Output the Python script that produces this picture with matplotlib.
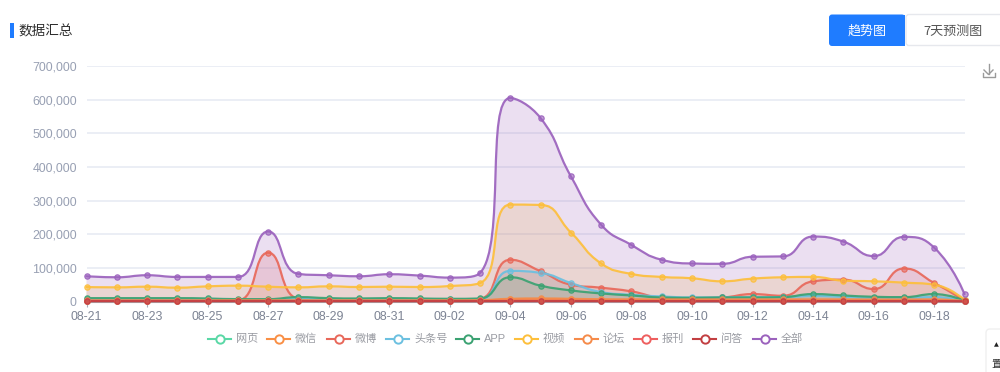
import matplotlib
matplotlib.use('Agg')
import matplotlib.pyplot as plt
import numpy as np
from matplotlib.path import Path
from matplotlib.patches import PathPatch, FancyBboxPatch, Rectangle
from matplotlib.lines import Line2D
from matplotlib.colors import to_rgba

CJK = ['Noto Sans CJK SC', 'DejaVu Sans']
NUM = ['Liberation Sans', 'DejaVu Sans']
plt.rcParams['font.family'] = CJK

dates = ['08-21','08-22','08-23','08-24','08-25','08-26','08-27','08-28','08-29','08-30',
         '08-31','09-01','09-02','09-03','09-04','09-05','09-06','09-07','09-08','09-09',
         '09-10','09-11','09-12','09-13','09-14','09-15','09-16','09-17','09-18','09-19']
yticks = [0, 100000, 200000, 300000, 400000, 500000, 600000, 700000]

web = [1500,1500,1500,1500,1500,1500,1500,1500,1500,1500,1500,1500,1500,1500,2500,2500,2500,2000,2000,2000,
       2000,2000,2000,2000,2000,2000,2000,2000,2000,800]
wechat = [2500,2500,2500,2500,2500,2500,2500,2500,2500,2500,2500,2500,2500,3000,6000,7000,6000,5000,5000,4500,
          4500,4500,4500,4500,4500,4500,4500,4500,4500,1200]
weibo = [3000,3000,3000,3000,3000,3500,145000,8000,3000,3000,3000,3000,3000,8000,124000,90000,50000,41000,30000,12000,
         10000,12000,22000,17000,60000,65000,37000,98000,55000,3000]
toutiao = [6000,6000,6000,6000,6000,5000,5000,9000,7000,7000,7000,7000,6000,7000,91000,85000,55000,28000,20000,15000,
           12000,12000,13000,13000,17000,14000,11000,11000,13000,2000]
app = [10000,10000,10000,10000,9000,7000,7000,13000,10000,9000,10000,9000,8000,9000,72000,47000,33000,24000,18000,12000,
       11000,12000,12000,13000,22000,18000,14000,13000,22000,3000]
video = [43000,42000,44000,41000,45000,47000,44000,42000,45000,43000,44000,43000,46000,55000,288000,287000,205000,113000,82000,73000,
         69000,60000,68000,72000,73000,62000,60000,56000,50000,5000]
forum = [3500,3500,3500,3500,3500,3500,3500,3500,3500,3500,3500,3500,3500,4000,8000,9000,8000,6500,6000,6000,
         6000,6000,6000,6000,6000,6000,6000,6000,6000,1500]
paper = [1500,1500,1500,1500,1500,1500,1500,1500,1500,1500,1500,1500,1500,1500,2000,2000,2000,1500,1500,1500,
         1500,1500,1500,1500,1500,1500,1500,1500,1500,800]
qa = [1000,1000,1000,1000,1000,1000,1000,1000,1000,1000,1000,1000,1000,1000,1000,1000,1000,1000,1000,1000,
      1000,1000,1000,1000,1000,1000,1000,1000,1000,500]
total = [75000,72000,78000,73000,73000,73000,208000,82000,78000,75000,81000,77000,71000,85000,605000,545000,372000,228000,168000,124000,
         113000,112000,133000,134000,193000,178000,135000,192000,160000,22000]

names = ['网页','微信','微博','头条号','APP','视频','论坛','报刊','问答','全部']
series = [web, wechat, weibo, toutiao, app, video, forum, paper, qa, total]
colors = ['#5ad8a6','#f98f45','#e8685a','#6cc0e0','#3ba272','#fdbf3c','#f58b4a','#ee5f5f','#c23f42','#9b62bd']

W, H = 1000, 372
L, R, T, B = 86.5, 964.5, 66.0, 301.5
fig = plt.figure(figsize=(W/100, H/100), dpi=100, facecolor='white')
ax = fig.add_axes([L/W, 1-B/H, (R-L)/W, (B-T)/H])
ax.set_xlim(0, len(dates)-1)
ax.set_ylim(0, 700000)
ax.set_facecolor('none')

SX = (R-L)/(len(dates)-1)
SY = (B-T)/700000

def smooth_path(xs, ys, smooth=0.5):
    """Cubic segments through the data points, control points clamped like a monotone-safe spline."""
    px = np.asarray(xs, float)*SX
    py = np.asarray(ys, float)*SY
    n = len(px)
    verts = [(px[0], py[0])]
    codes = [Path.MOVETO]
    cp0 = (px[0], py[0])
    for i in range(1, n):
        x, y = px[i], py[i]
        if i == n-1:
            cp1 = (x, y)
            nxt = (x, y)
        else:
            vx, vy = px[i+1]-px[i-1], py[i+1]-py[i-1]
            d0 = np.hypot(x-px[i-1], y-py[i-1])
            d1 = np.hypot(px[i+1]-x, py[i+1]-y)
            r = d1/(d0+d1)
            nx = x+vx*smooth*r
            ny = y+vy*smooth*r
            nx = min(nx, max(px[i+1], x)); ny = min(ny, max(py[i+1], y))
            nx = max(nx, min(px[i+1], x)); ny = max(ny, min(py[i+1], y))
            vx, vy = nx-x, ny-y
            cx = x-vx*d0/d1
            cy = y-vy*d0/d1
            cx = min(cx, max(px[i-1], x)); cy = min(cy, max(py[i-1], y))
            cx = max(cx, min(px[i-1], x)); cy = max(cy, min(py[i-1], y))
            vx, vy = x-cx, y-cy
            nx = x+vx*d1/d0
            ny = y+vy*d1/d0
            cp1 = (cx, cy)
            nxt = (nx, ny)
        verts += [cp0, cp1, (x, y)]
        codes += [Path.CURVE4]*3
        cp0 = nxt
    v = np.array(verts)
    v[:, 0] /= SX
    v[:, 1] /= SY
    return v, codes

xs = np.arange(len(dates))
for z, (vals, c) in enumerate(zip(series, colors)):
    v, codes = smooth_path(xs, vals)
    fv = np.vstack([v, [v[-1, 0], 0], [v[0, 0], 0], v[0]])
    fc = codes + [Path.LINETO, Path.LINETO, Path.CLOSEPOLY]
    ax.add_patch(PathPatch(Path(fv, fc), facecolor=c, edgecolor='none', alpha=0.2, zorder=3+z*0.01, clip_on=False))
for z, (vals, c) in enumerate(zip(series, colors)):
    v, codes = smooth_path(xs, vals)
    ax.add_patch(PathPatch(Path(v, codes), facecolor='none', edgecolor=to_rgba(c, 0.92), lw=1.6, zorder=4+z*0.01,
                           clip_on=False, capstyle='round'))
    ax.plot(xs, vals, ls='none', marker='o', ms=3.8, mfc=to_rgba(c, 0.6), mec=to_rgba(c, 0.9), mew=0.9,
            zorder=5+z*0.01, clip_on=False)

ax.set_yticks(yticks)
ax.set_yticklabels([f'{t:,}' for t in yticks], family=NUM, fontsize=8.9, color='#98a0b3')
ax.set_xticks(xs[::2])
ax.set_xticklabels(dates[::2], family=NUM, fontsize=8.9, color='#7d8494')
ax.tick_params(axis='y', length=0, pad=7)
ax.tick_params(axis='x', length=3.5, width=0.8, color='#a8adb8', pad=3.5)
ax.grid(axis='y', color='#e9edf4', lw=1.3, zorder=0)
ax.grid(axis='x', visible=False)
ax.set_axisbelow(True)
for s in ['top', 'right', 'left']:
    ax.spines[s].set_visible(False)
ax.spines['bottom'].set_color('#a8adb8')
ax.spines['bottom'].set_linewidth(0.8)

# Interface overlay in pixel coordinates
ui = fig.add_axes([0, 0, 1, 1], zorder=10)
ui.set_xlim(0, W)
ui.set_ylim(H, 0)
ui.axis('off')
ui.patch.set_alpha(0)

ui.add_patch(Rectangle((9.5, 22.5), 4, 15.5, fc='#1f7cff', ec='none'))
ui.text(18, 31, '数据汇总', fontsize=9.8, color='#2f2f2f', va='center', ha='left', fontweight='medium')

ui.add_patch(FancyBboxPatch((906, 14.5), 110, 31, boxstyle='round,pad=0,rounding_size=3',
                            fc='white', ec='#e6e8ed', lw=1))
ui.add_patch(FancyBboxPatch((829, 14.5), 76, 31.5, boxstyle='round,pad=0,rounding_size=3',
                            fc='#1f7cff', ec='none'))
ui.add_patch(Rectangle((890, 14.5), 15, 31.5, fc='#1f7cff', ec='none'))
ui.text(867, 31, '趋势图', fontsize=9.4, color='white', ha='center', va='center')
ui.text(953, 31, '7天预测图', fontsize=9.4, color='#555555', ha='center', va='center')

# Download icon
ic = '#9a9a9a'
ui.add_line(Line2D([988.5, 988.5], [64, 74], color=ic, lw=1))
ui.add_line(Line2D([984, 988.5, 993], [70, 74.5, 70], color=ic, lw=1))
ui.add_line(Line2D([982.5, 982.5, 995, 995], [73, 77, 77, 73], color=ic, lw=1))

# Legend
handle_x = [208, 267, 327, 386, 456, 515, 575, 634, 693, 753]
for hx, name, c in zip(handle_x, names, colors):
    ui.add_line(Line2D([hx, hx+23], [339, 339], color=c, lw=1.5))
    ui.add_line(Line2D([hx+11.5], [339], marker='o', ms=6, mfc='white', mec=c, mew=1.4, ls='none'))
    ui.text(hx+28, 339, name, fontsize=8, color='#9a9ca3', ha='left', va='center',
            family=NUM if name == 'APP' else CJK)

# Partly visible floating card at lower right
ui.add_patch(FancyBboxPatch((986, 329), 40, 60, boxstyle='round,pad=0,rounding_size=4',
                            fc='white', ec='#f0f0f0', lw=1))
ui.text(991, 364, '置', fontsize=7.5, color='#333333', ha='left', va='center')
ui.text(994, 345, '▲', fontsize=4.5, color='#222222', ha='left', va='center', family='DejaVu Sans')

fig.savefig('out.png', dpi=100, facecolor='white')
